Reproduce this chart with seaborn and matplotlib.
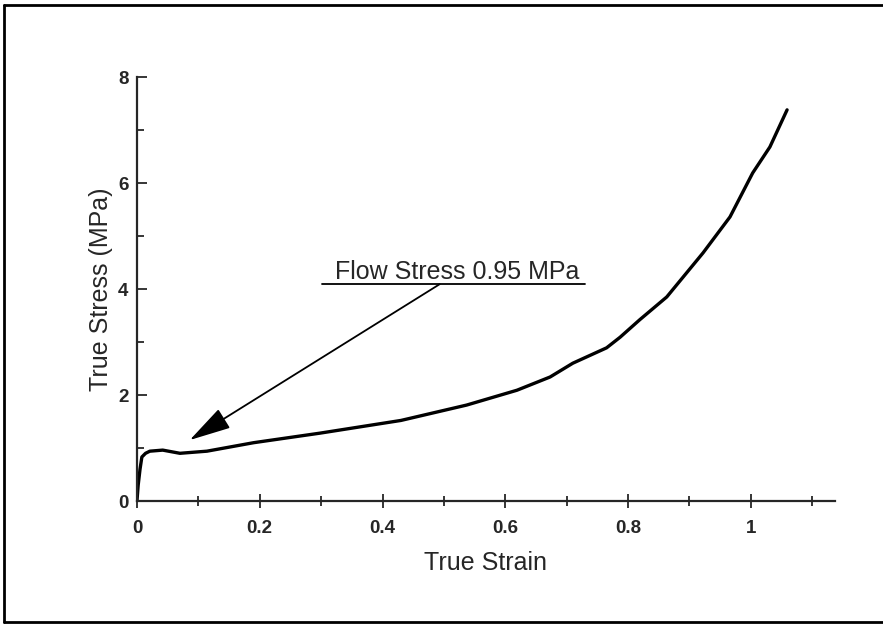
import numpy as np
import pandas as pd
import matplotlib
matplotlib.use("Agg")
import matplotlib.pyplot as plt
from matplotlib.lines import Line2D
from matplotlib.ticker import MultipleLocator
import seaborn as sns

strain = [0, 0.002, 0.005, 0.008, 0.014, 0.021, 0.042, 0.07, 0.114, 0.19,
          0.298, 0.43, 0.537, 0.619, 0.673, 0.71, 0.765, 0.787, 0.819,
          0.863, 0.922, 0.966, 1.003, 1.031, 1.059]
stress = [0, 0.3, 0.6, 0.83, 0.9, 0.94, 0.96, 0.9, 0.94, 1.1,
          1.28, 1.52, 1.81, 2.09, 2.34, 2.6, 2.89, 3.09, 3.42,
          3.85, 4.68, 5.36, 6.19, 6.68, 7.38]

x_ticks = [0, 0.2, 0.4, 0.6, 0.8, 1]
x_tick_labels = ["0", "0.2", "0.4", "0.6", "0.8", "1"]
y_ticks = [0, 2, 4, 6, 8]

note_text = "Flow Stress 0.95 MPa"
note_tip = (0.086, 1.15)
note_tail = (0.493, 4.09)


def main():
    sns.set_style("ticks")
    plt.rcParams["font.family"] = ["Liberation Sans", "DejaVu Sans"]

    df = pd.DataFrame({"strain": strain, "stress": stress})

    fig = plt.figure(figsize=(8.83, 6.25), dpi=100)
    ax = fig.add_axes([0.1551, 0.1984, 0.7905, 0.6784])

    sns.lineplot(data=df, x="strain", y="stress", ax=ax, color="black",
                 linewidth=2.4, sort=False, estimator=None)

    ax.set_xlim(0, 1.137)
    ax.set_ylim(0, 8)
    ax.set_xticks(x_ticks)
    ax.set_xticklabels(x_tick_labels)
    ax.set_yticks(y_ticks)
    ax.xaxis.set_minor_locator(MultipleLocator(0.1))
    ax.yaxis.set_minor_locator(MultipleLocator(1))
    ax.tick_params(axis="x", which="major", direction="inout", length=10, width=1.3, pad=9)
    ax.tick_params(axis="x", which="minor", direction="inout", length=7, width=1.3)
    ax.tick_params(axis="y", which="major", direction="in", length=7, width=1.3, pad=6)
    ax.tick_params(axis="y", which="minor", direction="in", length=5, width=1.3)
    for lab in ax.get_xticklabels() + ax.get_yticklabels():
        lab.set_fontsize(13.5)
        lab.set_fontweight("bold")

    sns.despine(ax=ax)
    for side in ["left", "bottom"]:
        ax.spines[side].set_linewidth(1.6)

    ax.set_xlabel("True Strain", fontsize=18, labelpad=10)
    ax.set_ylabel("True Stress (MPa)", fontsize=18, labelpad=4)

    # underlined note with arrow
    ax.text(0.521, 4.19, note_text, fontsize=18, ha="center", va="baseline")
    ax.plot([0.301, 0.730], [note_tail[1], note_tail[1]], color="black", linewidth=1.3)
    ax.annotate("", xy=note_tip, xytext=note_tail,
                arrowprops=dict(arrowstyle="-|>,head_length=2.6,head_width=0.7",
                                color="black", linewidth=1.3, shrinkA=0, shrinkB=0))

    # frame around the figure
    for xs, ys in [([0.0045, 0.0045], [0.0048, 0.992]),
                   ([0.0045, 1.0], [0.992, 0.992]),
                   ([0.0045, 1.0], [0.0048, 0.0048])]:
        fig.add_artist(Line2D(xs, ys, transform=fig.transFigure, color="black", linewidth=2))

    fig.savefig("out.png", dpi=100)


if __name__ == "__main__":
    main()
